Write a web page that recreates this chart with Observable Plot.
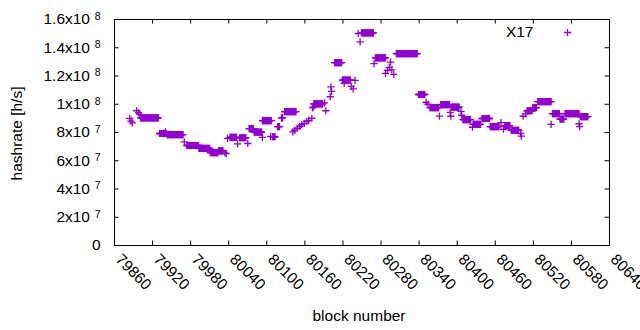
<!DOCTYPE html>
<html><head><meta charset="utf-8">
<script src="https://cdn.jsdelivr.net/npm/d3@7"></script>
<script src="https://cdn.jsdelivr.net/npm/@observablehq/plot@0.6"></script>
<style>body{margin:0;background:#fff;}</style>
</head><body><div id="chart"></div>
<script>
// Runs of consecutive blocks with the same hashrate (millions h/s)
const runStart = [79901,79931,79943,79974,79993,80011,80024,80042,80057,80072,80080,80093,80109,80117,80123,80128,80174,80207,80219,80249,80271,80304,80339,80357,80374,80391,80409,80425,80439,80452,80475,80485,80510,80519,80527,80550,80562,80570,80594];
const runEnd   = [79929,79942,79968,79992,80010,80023,80031,80052,80067,80079,80092,80107,80113,80120,80125,80146,80188,80218,80232,80268,80287,80337,80349,80371,80388,80403,80421,80437,80451,80466,80483,80497,80518,80525,80548,80561,80568,80592,80606];
const runHash  = [90.4,79.3,78.5,70.8,68.7,65.7,67.0,76.6,76.3,82.8,80.3,88.4,77.0,84.2,90.4,94.8,100.2,129.4,117.1,150.5,132.9,135.8,106.9,97.6,99.7,98.0,89.1,85.7,89.9,84.2,84.8,81.6,95.4,97.6,101.9,93.4,89.4,93.4,91.3];
// Isolated blocks
const ptBlock = [79884,79886,79888,79895,79898,79900,79940,79970,80034,80036,80038,80054,80070,80093,80106,80141,80144,80148,80152,80155,80159,80163,80166,80171,80172,80174,80191,80193,80200,80201,80202,80222,80233,80236,80239,80244,80247,80269,80287,80290,80293,80295,80297,80300,80351,80354,80372,80389,80390,80406,80407,80424,80469,80473,80500,80501,80504,80508,80548,80592,80593];
const ptHash  = [90.0,88.0,86.8,95.4,94.0,92.9,80.5,73.3,65.5,65.0,75.9,72.0,72.2,76.6,77.3,80.5,81.6,83.0,84.4,85.5,86.5,87.9,88.6,90.1,97.5,98.2,101.0,95.4,105.3,112.3,109.1,114.8,112.7,110.9,116.9,150.1,144.1,128.7,121.9,124.0,126.1,129.8,124.3,121.1,101.4,100.0,91.6,94.3,91.5,95.0,92.2,83.7,87.0,82.3,79.3,77.4,91.5,93.2,85.7,86.2,84.1];

const xTicks = [79860,79920,79980,80040,80100,80160,80220,80280,80340,80400,80460,80520,80580,80640];
const yTicks = [0,2e7,4e7,6e7,8e7,1e8,1.2e8,1.4e8,1.6e8];
const yMant  = ["0","2x10","4x10","6x10","8x10","1x10","1.2x10","1.4x10","1.6x10"];
const yExp   = ["","7","7","7","7","8","8","8","8"];
const seriesName = "X17";
const color = "#9400d3";

const data = [];
runStart.forEach((s, i) => { for (let b = s; b <= runEnd[i]; b++) data.push({block: b, hashrate: runHash[i] * 1e6}); });
ptBlock.forEach((b, i) => data.push({block: b, hashrate: ptHash[i] * 1e6}));

const yRows = yTicks.map((v, i) => ({v, m: yMant[i], e: yExp[i]}));

const plus = {draw(ctx, size) { const r = Math.sqrt(size / Math.PI); ctx.moveTo(-r, 0); ctx.lineTo(r, 0); ctx.moveTo(0, -r); ctx.lineTo(0, r); }};

const W = 640, H = 330, mL = 114, mR = 31, mT = 19, mB = 85;
const fw = W - mL - mR, fh = H - mT - mB, tk = 4.5;

const chart = Plot.plot({
  width: W, height: H,
  marginLeft: mL, marginRight: mR, marginTop: mT, marginBottom: mB,
  style: {fontFamily: "'Liberation Sans', Arial, sans-serif", fontSize: "15.5px", background: "white", color: "black", overflow: "visible"},
  x: {domain: [79860, 80640], axis: null},
  y: {domain: [0, 1.6e8], axis: null},
  marks: [
    Plot.ruleX(xTicks, {x: d => d, insetTop: fh - tk, stroke: "black"}),
    Plot.ruleX(xTicks, {x: d => d, insetBottom: fh - tk, stroke: "black"}),
    Plot.ruleY(yTicks, {y: d => d, insetRight: fw - tk, stroke: "black"}),
    Plot.ruleY(yTicks, {y: d => d, insetLeft: fw - tk, stroke: "black"}),
    Plot.frame({stroke: "black", strokeWidth: 1}),
    Plot.text(xTicks, {x: d => d, text: d => String(d), frameAnchor: "bottom", rotate: 45, textAnchor: "start", lineAnchor: "top", dy: 7, dx: 8}),
    Plot.text(yRows.filter(d => d.e !== ""), {y: "v", text: "m", frameAnchor: "left", textAnchor: "end", dx: -24.5}),
    Plot.text(yRows.filter(d => d.e !== ""), {y: "v", text: "e", frameAnchor: "left", textAnchor: "end", dx: -14, dy: -3, fontSize: 10.5}),
    Plot.text(yRows.filter(d => d.e === ""), {y: "v", text: "m", frameAnchor: "left", textAnchor: "end", dx: -14}),
    Plot.text(["hashrate [h/s]"], {frameAnchor: "left", rotate: -90, dx: -97, dy: 1, textAnchor: "middle", lineAnchor: "middle"}),
    Plot.text(["block number"], {frameAnchor: "bottom", dx: -3, dy: 71, textAnchor: "middle", lineAnchor: "middle"}),
    Plot.dot(data, {x: "block", y: "hashrate", r: 3.6, symbol: plus, stroke: color, fill: "none", strokeWidth: 1.3}),
    Plot.text([seriesName], {frameAnchor: "top-right", dx: -76, dy: 13, textAnchor: "end", lineAnchor: "middle"}),
    Plot.dot([0], {frameAnchor: "top-right", dx: -42, dy: 13, r: 3.6, symbol: plus, stroke: color, fill: "none", strokeWidth: 1.3})
  ]
});
document.getElementById("chart").appendChild(chart);
</script></body></html>
